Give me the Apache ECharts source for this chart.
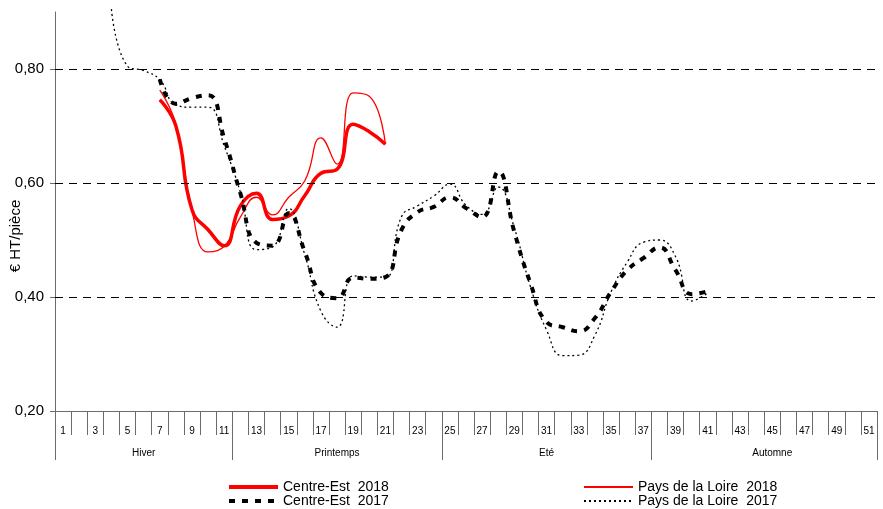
<!DOCTYPE html>
<html>
<head>
<meta charset="utf-8">
<script src="https://cdn.jsdelivr.net/npm/echarts@6/dist/echarts.min.js"></script>
<style>
  html, body { margin: 0; padding: 0; background: #fff; }
  #chart { width: 883px; height: 509px; }
</style>
</head>
<body>
<div id="chart"></div>
<script>
const weeks = [1, 2, 3, 4, 5, 6, 7, 8, 9, 10, 11, 12, 13, 14, 15, 16, 17, 18, 19, 20,
  21, 22, 23, 24, 25, 26, 27, 28, 29, 30, 31, 32, 33, 34, 35, 36, 37, 38, 39, 40,
  41, 42, 43, 44, 45, 46, 47, 48, 49, 50, 51];

// season blocks: first week index, label index
const seasons = [
  { name: "Hiver", start: 0, label: 5 },
  { name: "Printemps", start: 11, label: 17 },
  { name: "Eté", start: 24, label: 30 },
  { name: "Automne", start: 37, label: 44 },
];

const yTicks = [0.2, 0.4, 0.6, 0.8];
const gridValues = [0.4, 0.6, 0.8];

// values start at the given week
const centreEst2018Start = 7;
const centreEst2018 = [0.746, 0.700, 0.553, 0.518, 0.490, 0.560, 0.582, 0.536, 0.542, 0.578,
  0.617, 0.624, 0.703, 0.690, 0.668];

const paysLoire2018Start = 7;
const paysLoire2018 = [0.763, 0.703, 0.551, 0.479, 0.489, 0.540, 0.575, 0.544, 0.575, 0.604,
  0.679, 0.633, 0.758, 0.752, 0.668];

const centreEst2017Start = 7;
const centreEst2017 = [0.782, 0.739, 0.749, 0.754, 0.678, 0.582, 0.495, 0.490, 0.547, 0.479,
  0.407, 0.398, 0.434, 0.432, 0.435, 0.518, 0.549, 0.558, 0.575, 0.556,
  0.540, 0.620, 0.514, 0.424, 0.356, 0.347, 0.340, 0.363, 0.409, 0.447,
  0.468, 0.487, 0.447, 0.405, 0.410];

const paysLoire2017Start = 4;
const paysLoire2017 = [0.905, 0.805, 0.797, 0.781, 0.737, 0.733, 0.733, 0.665, 0.584, 0.483,
  0.488, 0.555, 0.474, 0.375, 0.347, 0.437, 0.435, 0.435, 0.541, 0.560,
  0.577, 0.598, 0.561, 0.545, 0.593, 0.521, 0.418, 0.342, 0.297, 0.298,
  0.333, 0.409, 0.461, 0.496, 0.500, 0.471, 0.393, 0.407];

const pad = (start, values) => weeks.map((w) => {
  const i = w - start;
  return i >= 0 && i < values.length ? values[i] : null;
});

const FONT = "Liberation Sans, Arial, sans-serif";
const AXIS_COLOR = "#6b6b6b";

const seasonStarts = seasons.map((s) => s.start);
const seasonByLabel = {};
seasons.forEach((s) => { seasonByLabel[s.label] = s.name; });

const legendText = { fontSize: 14, color: "#000", fontFamily: FONT };

const chart = echarts.init(document.getElementById("chart"), null, { renderer: "canvas" });

const option = {
  animation: false,
  textStyle: { fontFamily: FONT, color: "#000" },
  grid: { left: 55, right: 6, top: 12, bottom: 98, containLabel: false, outerBoundsMode: "none" },
  xAxis: [
    {
      type: "category",
      data: weeks,
      boundaryGap: true,
      position: "bottom",
      axisLine: { show: true, lineStyle: { color: AXIS_COLOR, width: 1 } },
      axisTick: { show: true, interval: 0, length: 24, lineStyle: { color: AXIS_COLOR } },
      axisLabel: { interval: 1, fontSize: 10, margin: 15, color: "#000", fontFamily: FONT },
      splitLine: { show: false },
    },
    {
      type: "category",
      data: weeks,
      boundaryGap: true,
      position: "bottom",
      axisLine: { show: false },
      axisTick: {
        show: true,
        interval: (idx) => seasonStarts.includes(idx),
        length: 49,
        lineStyle: { color: AXIS_COLOR },
      },
      axisLabel: {
        interval: (idx) => seasonByLabel[idx] !== undefined,
        formatter: (val, idx) => seasonByLabel[idx] || "",
        fontSize: 10,
        margin: 37,
        color: "#000",
        fontFamily: FONT,
      },
      splitLine: { show: false },
    },
  ],
  yAxis: {
    type: "value",
    min: 0.2,
    max: 0.9,
    interval: 0.2,
    name: "€ HT/pièce",
    nameLocation: "middle",
    nameGap: 32,
    nameMoveOverlap: false,
    nameTextStyle: { fontSize: 15, color: "#000", fontFamily: FONT, padding: [0, 49, 0, 0] },
    axisLine: { show: true, lineStyle: { color: AXIS_COLOR, width: 1 } },
    axisTick: { show: true, length: 5, customValues: yTicks, lineStyle: { color: AXIS_COLOR } },
    axisLabel: {
      customValues: yTicks,
      fontSize: 15,
      margin: 11,
      color: "#000",
      fontFamily: FONT,
      formatter: (v) => v.toFixed(2).replace(".", ","),
    },
    splitLine: { show: false },
  },
  legend: [
    {
      data: [
        { name: "Centre-Est  2018", lineStyle: { width: 4 } },
        { name: "Centre-Est  2017", lineStyle: { width: 4 } },
      ],
      orient: "vertical",
      left: 227,
      top: 480,
      padding: 0,
      itemWidth: 49,
      itemHeight: 14,
      itemGap: 0,
      itemStyle: { opacity: 0 },
      textStyle: legendText,
    },
    {
      data: ["Pays de la Loire  2018", "Pays de la Loire  2017"],
      orient: "vertical",
      left: 583,
      top: 480,
      padding: 0,
      itemWidth: 49,
      itemHeight: 14,
      itemGap: 0,
      itemStyle: { opacity: 0 },
      textStyle: legendText,
    },
  ],
  series: [
    {
      name: "Centre-Est  2018",
      type: "line",
      data: pad(centreEst2018Start, centreEst2018),
      smooth: 0.5,
      symbol: "none",
      lineStyle: { color: "#ff0000", width: 3.5 },
      itemStyle: { color: "#ff0000" },
      markLine: {
        silent: true,
        symbol: ["none", "none"],
        label: { show: false },
        lineStyle: { color: "#000", width: 1, type: [8, 6] },
        data: gridValues.map((v) => ({ yAxis: v })),
      },
      z: 2,
    },
    {
      name: "Pays de la Loire  2018",
      type: "line",
      data: pad(paysLoire2018Start, paysLoire2018),
      smooth: 0.5,
      symbol: "none",
      lineStyle: { color: "#ff0000", width: 1.3 },
      itemStyle: { color: "#ff0000" },
      z: 3,
    },
    {
      name: "Centre-Est  2017",
      type: "line",
      data: pad(centreEst2017Start, centreEst2017),
      smooth: 0.5,
      symbol: "none",
      lineStyle: { color: "#000", width: 4, type: [6, 7] },
      itemStyle: { color: "#000" },
      z: 4,
    },
    {
      name: "Pays de la Loire  2017",
      type: "line",
      data: pad(paysLoire2017Start, paysLoire2017),
      smooth: 0.5,
      symbol: "none",
      clip: false,
      lineStyle: { color: "#000", width: 1.3, type: [2, 3] },
      itemStyle: { color: "#000" },
      z: 5,
    },
  ],
};

chart.setOption(option);
</script>
</body>
</html>
